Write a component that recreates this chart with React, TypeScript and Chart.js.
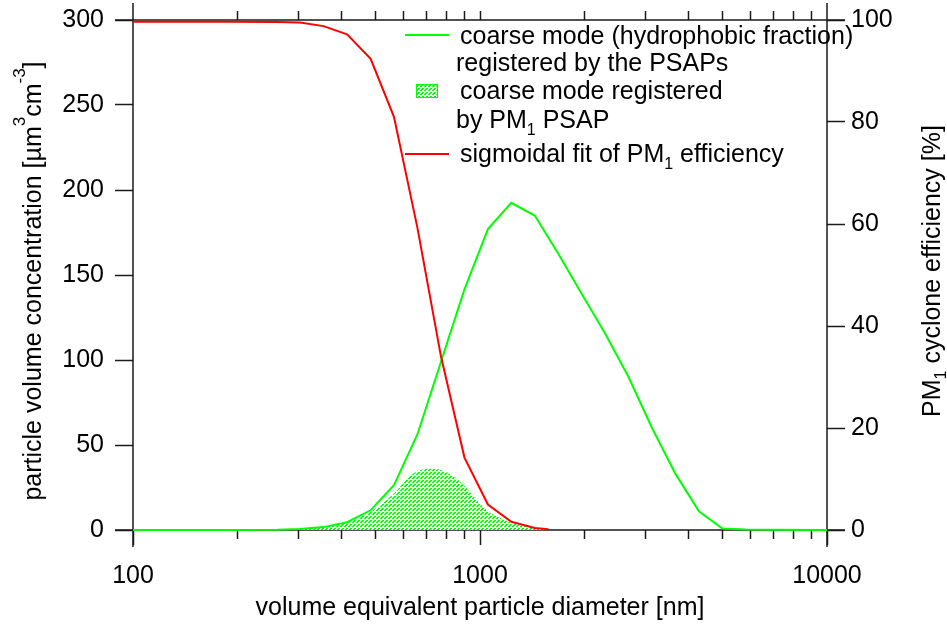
import React, { useEffect, useRef } from 'react';
import { Chart, registerables } from 'chart.js';

Chart.register(...registerables);

const FONT = '"Liberation Sans", Arial, Helvetica, sans-serif';
const GREEN = '#00ff00';
const RED = '#ff0000';
const AXIS = '#1a1a1a';

// coarse mode (hydrophobic fraction) registered by the PSAPs  [µm3 cm-3]
const coarseDiam = [100, 139, 190, 260, 303, 354, 414, 484, 565, 660, 772, 902, 1054, 1231, 1438, 1680, 1963, 2294, 2680, 3132, 3659, 4275, 4995, 5836, 6819, 10000];
const coarseVol = [0, 0, 0.05, 0.1, 0.6, 1.7, 4.6, 11.6, 26.4, 56.2, 99, 141.5, 177, 192.5, 185, 162.6, 139, 115.6, 90, 60, 33, 11, 0.9, 0.3, 0.1, 0];

// coarse mode registered by PM1 PSAP  [µm3 cm-3]
const pm1Diam = [260, 303, 354, 414, 484, 565, 620, 660, 720, 772, 840, 902, 970, 1054, 1140, 1231, 1350, 1480, 1575];
const pm1Vol = [0.1, 0.6, 1.6, 4.4, 10.7, 21.5, 30.5, 34.5, 36, 35.3, 31.5, 26, 18.5, 11, 7.2, 4.2, 2.2, 0.9, 0];

// sigmoidal fit of PM1 efficiency  [%]
const effDiam = [100, 190, 260, 303, 354, 414, 484, 565, 660, 772, 902, 1054, 1231, 1438, 1575];
const effPct = [99.65, 99.64, 99.62, 99.5, 98.8, 97.2, 92.4, 81.0, 59.3, 34.0, 14.2, 5.0, 1.6, 0.4, 0.15];

const xMajorTicks = [100, 1000, 10000];
const xMinorTicks = [200, 300, 400, 500, 600, 700, 800, 900, 2000, 3000, 4000, 5000, 6000, 7000, 8000, 9000];
const xTopTicks = [200, 300, 400, 500, 600, 700, 800, 900, 1000, 2000, 3000, 4000, 5000, 6000, 7000, 8000, 9000];
const yLeftTicks = [0, 50, 100, 150, 200, 250, 300];
const yRightTicks = [0, 20, 40, 60, 80, 100];

type Seg = [string, number, number];

function drawRich(ctx: CanvasRenderingContext2D, segs: Seg[], x: number, y: number, center: boolean) {
  let total = 0;
  const widths: number[] = [];
  for (const [t, s] of segs) {
    ctx.font = `${s}px ${FONT}`;
    const w = ctx.measureText(t).width;
    widths.push(w);
    total += w;
  }
  let cx = center ? x - total / 2 : x;
  segs.forEach(([t, s, dy], i) => {
    ctx.font = `${s}px ${FONT}`;
    ctx.fillText(t, cx, y + dy);
    cx += widths[i];
  });
}

const noPad = (s: any) => {
  s.paddingTop = 0;
  s.paddingBottom = 0;
  s.paddingLeft = 0;
  s.paddingRight = 0;
};

export default function App() {
  const ref = useRef<HTMLCanvasElement | null>(null);

  useEffect(() => {
    document.body.style.margin = '0';
    const canvas = ref.current;
    if (!canvas) return;
    const ctx0 = canvas.getContext('2d')!;

    // hatch tile: dashed green diagonal strips
    const pc = document.createElement('canvas');
    pc.width = 4;
    pc.height = 4;
    const pctx = pc.getContext('2d')!;
    const img = pctx.createImageData(4, 4);
    const on = [[2, 0], [3, 0], [1, 1], [2, 1], [0, 2], [1, 2]];
    for (let i = 0; i < 16; i++) {
      img.data[i * 4] = 255;
      img.data[i * 4 + 1] = 255;
      img.data[i * 4 + 2] = 255;
      img.data[i * 4 + 3] = 255;
    }
    for (const [px, py] of on) {
      const k = (py * 4 + px) * 4;
      img.data[k] = 0;
      img.data[k + 1] = 255;
      img.data[k + 2] = 0;
      img.data[k + 3] = 255;
    }
    pctx.putImageData(img, 0, 0);
    const pattern = ctx0.createPattern(pc, 'repeat')!;

    const framePlugin = {
      id: 'frame',
      beforeDatasetsDraw(chart: any) {
        const { left, right, top, bottom } = chart.chartArea;
        const ctx = chart.ctx as CanvasRenderingContext2D;
        ctx.save();
        ctx.strokeStyle = AXIS;
        ctx.lineWidth = 1.5;
        ctx.beginPath();
        ctx.moveTo(left, 3); ctx.lineTo(left, 547);
        ctx.moveTo(right, 3); ctx.lineTo(right, 547);
        ctx.moveTo(left - 18, top); ctx.lineTo(right + 18, top);
        ctx.moveTo(left - 18, bottom); ctx.lineTo(right + 18, bottom);
        ctx.stroke();
        ctx.restore();
      },
    };

    const textPlugin = {
      id: 'texts',
      afterDraw(chart: any) {
        const ctx = chart.ctx as CanvasRenderingContext2D;
        ctx.save();
        ctx.fillStyle = '#000';
        ctx.textBaseline = 'alphabetic';
        ctx.textAlign = 'left';

        // legend
        ctx.lineWidth = 2;
        ctx.strokeStyle = GREEN;
        ctx.beginPath(); ctx.moveTo(405, 35); ctx.lineTo(449, 35); ctx.stroke();
        ctx.strokeStyle = RED;
        ctx.beginPath(); ctx.moveTo(405, 154); ctx.lineTo(449, 154); ctx.stroke();
        ctx.fillStyle = pattern;
        ctx.fillRect(416, 84, 22, 14);
        ctx.strokeStyle = GREEN;
        ctx.lineWidth = 1;
        ctx.strokeRect(416.5, 84.5, 21, 13);
        ctx.fillStyle = '#000';
        drawRich(ctx, [['coarse mode (hydrophobic fraction)', 25, 0]], 460, 44, false);
        drawRich(ctx, [['registered by the PSAPs', 25, 0]], 456, 70.5, false);
        drawRich(ctx, [['coarse mode registered', 25, 0]], 460, 98.5, false);
        drawRich(ctx, [['by PM', 25, 0], ['1', 16, 7], [' PSAP', 25, 0]], 456, 128, false);
        drawRich(ctx, [['sigmoidal fit of PM', 25, 0], ['1', 16, 7], [' efficiency', 25, 0]], 460, 162, false);

        // left title
        ctx.save();
        ctx.translate(41, 281);
        ctx.rotate(-Math.PI / 2);
        drawRich(ctx, [
          ['particle volume concentration [µm', 25, 0],
          ['3', 17, -16],
          ['cm', 25, 0],
          ['-3', 17, -16],
          [']', 25, 0],
        ], 0, 0, true);
        ctx.restore();

        // right title
        ctx.save();
        ctx.translate(940, 271);
        ctx.rotate(-Math.PI / 2);
        drawRich(ctx, [
          ['PM', 25, 0],
          ['1', 16, 6],
          [' cyclone efficiency [%]', 25, 0],
        ], 0, 0, true);
        ctx.restore();

        ctx.restore();
      },
    };

    const tickFont = { size: 25, family: FONT };

    const chart = new Chart(canvas, {
      type: 'line',
      data: {
        datasets: [
          {
            label: 'coarse mode registered by PM1 PSAP',
            data: pm1Diam.map((d, i) => ({ x: d, y: pm1Vol[i] })),
            xAxisID: 'x',
            yAxisID: 'y',
            fill: 'origin',
            backgroundColor: pattern as any,
            borderColor: 'rgba(0,0,0,0)',
            borderWidth: 0,
            pointRadius: 0,
            cubicInterpolationMode: 'monotone',
            clip: false,
            order: 3,
          },
          {
            label: 'coarse mode (hydrophobic fraction) registered by the PSAPs',
            data: coarseDiam.map((d, i) => ({ x: d, y: coarseVol[i] })),
            xAxisID: 'x',
            yAxisID: 'y',
            fill: false,
            borderColor: GREEN,
            borderWidth: 2,
            pointRadius: 0,
            tension: 0,
            clip: false,
            order: 2,
          },
          {
            label: 'sigmoidal fit of PM1 efficiency',
            data: effDiam.map((d, i) => ({ x: d, y: effPct[i] })),
            xAxisID: 'x',
            yAxisID: 'y2',
            fill: false,
            borderColor: RED,
            borderWidth: 2,
            pointRadius: 0,
            tension: 0,
            clip: false,
            order: 1,
          },
        ] as any,
      },
      options: {
        responsive: false,
        animation: false,
        events: [],
        layout: { padding: 0 },
        plugins: { legend: { display: false }, tooltip: { enabled: false } },
        scales: {
          x: {
            type: 'logarithmic',
            position: 'bottom',
            weight: 1,
            min: 100,
            max: 10000,
            afterBuildTicks: (s: any) => { s.ticks = xMajorTicks.map((v) => ({ value: v })); },
            afterFit: (s: any) => { s.height = 100; noPad(s); },
            border: { display: false },
            grid: { drawOnChartArea: false, drawTicks: true, tickLength: 15, tickColor: AXIS, tickWidth: 1.5 },
            ticks: { autoSkip: false, maxRotation: 0, padding: 16, color: '#000', font: tickFont, callback: (v: any) => String(v) },
            title: { display: true, text: 'volume equivalent particle diameter [nm]', color: '#000', font: tickFont, padding: { top: 0, bottom: 7 } },
          },
          xm: {
            type: 'logarithmic',
            position: 'bottom',
            weight: 0,
            min: 100,
            max: 10000,
            afterBuildTicks: (s: any) => { s.ticks = xMinorTicks.map((v) => ({ value: v })); },
            afterFit: (s: any) => { s.height = 0; noPad(s); },
            border: { display: false },
            grid: { drawOnChartArea: false, drawTicks: true, tickLength: 9, tickColor: AXIS, tickWidth: 1.5 },
            ticks: { display: false },
          },
          xt: {
            type: 'logarithmic',
            position: 'top',
            min: 100,
            max: 10000,
            afterBuildTicks: (s: any) => { s.ticks = xTopTicks.map((v) => ({ value: v })); },
            afterFit: (s: any) => { s.height = 20; noPad(s); },
            border: { display: false },
            grid: { drawOnChartArea: false, drawTicks: true, tickLength: 9, tickColor: AXIS, tickWidth: 1.5 },
            ticks: { display: false },
          },
          y: {
            type: 'linear',
            position: 'left',
            min: 0,
            max: 300,
            afterBuildTicks: (s: any) => { s.ticks = yLeftTicks.map((v) => ({ value: v })); },
            afterFit: (s: any) => { s.width = 133; noPad(s); },
            border: { display: false },
            grid: { drawOnChartArea: false, drawTicks: true, tickLength: 18, tickColor: AXIS, tickWidth: 1.5 },
            ticks: { padding: 11, color: '#000', font: tickFont },
          },
          y2: {
            type: 'linear',
            position: 'right',
            min: 0,
            max: 100,
            afterBuildTicks: (s: any) => { s.ticks = yRightTicks.map((v) => ({ value: v })); },
            afterFit: (s: any) => { s.width = 120; noPad(s); },
            border: { display: false },
            grid: { drawOnChartArea: false, drawTicks: true, tickLength: 18, tickColor: AXIS, tickWidth: 1.5 },
            ticks: { padding: 6, color: '#000', font: tickFont },
          },
        } as any,
      },
      plugins: [framePlugin, textPlugin],
    });

    return () => chart.destroy();
  }, []);

  return (
    <div style={{ width: 947, height: 630, position: 'relative', background: '#fff' }}>
      <canvas ref={ref} width={947} height={630} style={{ display: 'block', width: 947, height: 630 }} />
    </div>
  );
}
